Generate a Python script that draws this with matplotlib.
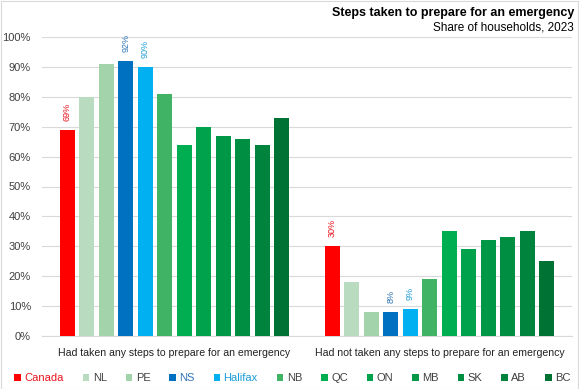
import numpy as np
import matplotlib.pyplot as plt
from matplotlib.patches import Rectangle

plt.rcParams['font.family'] = ['Liberation Sans', 'DejaVu Sans']

categorias = ['Had taken any steps to prepare for an emergency',
              'Had not taken any steps to prepare for an emergency']
regiones = ['Canada', 'NL', 'PE', 'NS', 'Halifax', 'NB', 'QC', 'ON', 'MB', 'SK', 'AB', 'BC']
tomaron = [69, 80, 91, 92, 90, 81, 64, 70, 67, 66, 64, 73]
no_tomaron = [30, 18, 8, 8, 9, 19, 35, 29, 32, 33, 35, 25]
colores = ['#FF0000', '#B9DCC1', '#A3D3AA', '#0070C0', '#00B0F0', '#41B365',
           '#00AE52', '#00A24C', '#009847', '#008E42', '#00833D', '#007334']
etiquetas = {'Canada': '#E8141B', 'NS': '#2E75B6', 'Halifax': '#1C9CD8'}

fig = plt.figure(figsize=(5.79, 3.89), dpi=100)
ax = fig.add_axes([42 / 579, 1 - 336 / 389, 530 / 579, 299 / 389])

n = len(regiones)
paso = 0.0736
ancho = 0.0566
x = np.arange(len(categorias))
for i, reg in enumerate(regiones):
    vals = [tomaron[i], no_tomaron[i]]
    pos = x + (i - (n - 1) / 2) * paso
    ax.bar(pos, vals, width=ancho, color=colores[i], label=reg, zorder=3)
    if reg in etiquetas:
        for p, v in zip(pos, vals):
            ax.text(p, v + 3, f'{v}%', rotation=90, ha='center', va='bottom',
                    fontsize=6.5, color=etiquetas[reg])

ax.set_xlim(-0.5, 1.5)
ax.set_ylim(0, 100)
ax.set_yticks(range(0, 101, 10))
ax.set_yticklabels([f'{v}%' for v in range(0, 101, 10)], fontsize=8, color='#404040')
ax.set_xticks(x)
ax.set_xticklabels(categorias, fontsize=7.6, color='#222222')
ax.tick_params(axis='both', length=0)
ax.tick_params(axis='y', pad=8)
ax.tick_params(axis='x', pad=9)
ax.grid(axis='y', color='#D9D9D9', linewidth=0.8, zorder=0)
for s in ['top', 'right', 'left']:
    ax.spines[s].set_visible(False)
ax.spines['bottom'].set_color('#D9D9D9')

fig.text(574 / 579, 1 - 13 / 389, 'Steps taken to prepare for an emergency',
         ha='right', va='center', fontsize=9, fontweight='bold')
fig.text(574 / 579, 1 - 28 / 389, 'Share of households, 2023',
         ha='right', va='center', fontsize=8.5)

leg = fig.legend(loc='center', bbox_to_anchor=(0.505, 1 - 378 / 389), ncol=12,
                 frameon=False, fontsize=8, handlelength=0.6, handleheight=0.6,
                 handletextpad=0.3, columnspacing=1.7)
for t in leg.get_texts():
    t.set_color(etiquetas.get(t.get_text(), '#404040'))

fig.patches.append(Rectangle((0.001, 0.001), 0.997, 0.997, transform=fig.transFigure,
                             fill=False, edgecolor='#D9D9D9', linewidth=0.8))
fig.savefig('out.png', dpi=100)
